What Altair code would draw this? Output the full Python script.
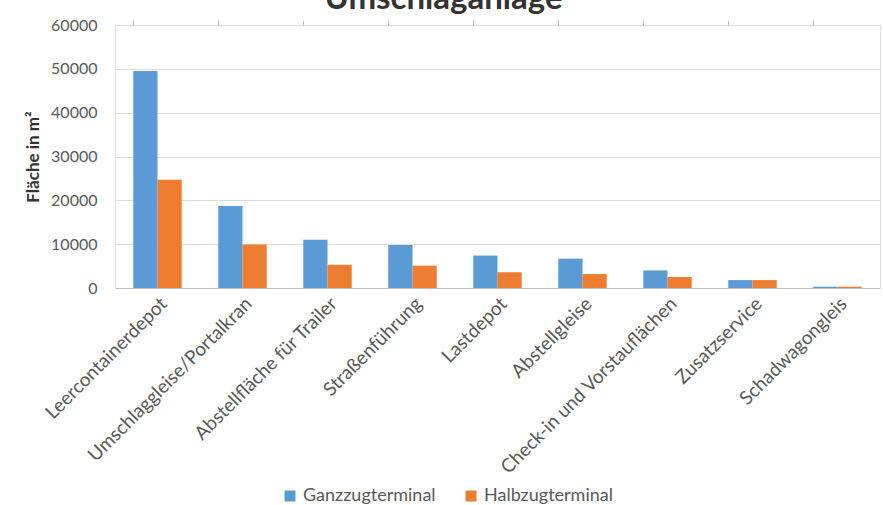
import altair as alt
import pandas as pd

categories = [
    "Leercontainerdepot",
    "Umschlaggleise/Portalkran",
    "Abstellfläche für Trailer",
    "Straßenführung",
    "Lastdepot",
    "Abstellgleise",
    "Check-in und Vorstauflächen",
    "Zusatzservice",
    "Schadwagongleis",
]
ganzzug = [49500, 18700, 11000, 9800, 7400, 6700, 4000, 1800, 300]
halbzug = [24700, 9900, 5300, 5100, 3600, 3200, 2500, 1800, 300]
series = ["Ganzzugterminal", "Halbzugterminal"]
colors = ["#5B9BD5", "#ED7D31"]
y_ticks = [0, 10000, 20000, 30000, 40000, 50000, 60000]

rows = []
for c, g, h in zip(categories, ganzzug, halbzug):
    rows.append({"Kategorie": c, "Terminal": series[0], "Fläche": g})
    rows.append({"Kategorie": c, "Terminal": series[1], "Fläche": h})
df = pd.DataFrame(rows)

font = "Lato"
text_col = "#595959"
x_scale = alt.Scale(paddingInner=0.43, paddingOuter=0.215)

bars = alt.Chart(df).mark_bar().encode(
    x=alt.X(
        "Kategorie:N",
        sort=categories,
        scale=x_scale,
        axis=alt.Axis(
            title=None,
            labelAngle=-45,
            labelFontSize=19,
            labelFont=font,
            labelColor=text_col,
            labels=True,
            ticks=False,
            domainColor="#bfbfbf",
            labelPadding=6,
            grid=False,
            labelLimit=400,
        ),
    ),
    xOffset=alt.XOffset("Terminal:N", sort=series, scale=alt.Scale(paddingInner=0, paddingOuter=0)),
    y=alt.Y(
        "Fläche:Q",
        scale=alt.Scale(domain=[0, 60000]),
        axis=alt.Axis(
            title="Fläche in m²",
            values=y_ticks,
            format="d",
            labelFontSize=16,
            labelFont=font,
            labelColor=text_col,
            labelPadding=18,
            ticks=False,
            domainColor="#e0e0e0",
            gridColor="#dcdcdc",
            titleFont=font,
            titleFontSize=17,
            titleFontWeight="bold",
            titleColor="#333333",
            titlePadding=8,
        ),
    ),
    color=alt.Color(
        "Terminal:N",
        sort=series,
        scale=alt.Scale(domain=series, range=colors),
        legend=alt.Legend(
            title=None,
            orient="none",
            direction="horizontal",
            legendX=166,
            legendY=462,
            symbolType="square",
            symbolSize=120,
            symbolStrokeWidth=0,
            labelFont=font,
            labelFontSize=18,
            labelColor=text_col,
            labelOffset=4,
            columnPadding=26,
            padding=0,
        ),
    ),
)

ticks_layer = alt.Chart(df).mark_point(opacity=0).encode(
    x=alt.X(
        "Kategorie:N",
        sort=categories,
        axis=alt.Axis(
            title=None,
            bandPosition=0,
            labels=False,
            ticks=True,
            tickSize=5,
            tickColor="#bfbfbf",
            domain=False,
            grid=False,
        ),
    ),
)

chart = (
    alt.layer(bars, ticks_layer)
    .resolve_axis(x="independent")
    .properties(
        width=765,
        height=263,
        autosize=alt.AutoSizeParams(type="none"),
        padding={"left": 115, "top": 25, "right": 3, "bottom": 217},
        title=alt.TitleParams(
            "Umschlaganlage",
            font=font,
            fontSize=33,
            fontWeight="bold",
            color="#333333",
            anchor="middle",
            frame="group",
            dx=-54,
            baseline="alphabetic",
            offset=0,
            dy=25,
        ),
    )
    .configure_view(stroke=None)
    .configure(background="white")
)

chart.save("out.html", embed_options={"renderer": "svg", "actions": False})
